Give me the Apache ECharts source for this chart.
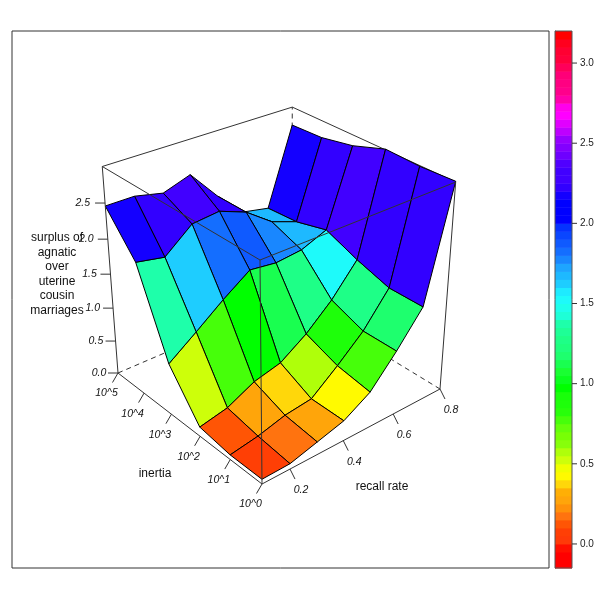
<!DOCTYPE html>
<html><head><meta charset="utf-8">
<style>html,body{margin:0;padding:0;background:#fff}#c{width:600px;height:600px}</style>
<script src="https://cdn.jsdelivr.net/npm/echarts@6/dist/echarts.min.js"></script>
</head><body><div id="c"></div>
<script>
const inertiaLabels = ['10^0','10^1','10^2','10^3','10^4','10^5'];
const recallRates = [0.1,0.2,0.3,0.4,0.5,0.6,0.7,0.8];
const recallTicks = [0.2,0.4,0.6,0.8];
const surplusTicks = [0,0.5,1,1.5,2,2.5];
const keyTicks = [0,0.5,1,1.5,2,2.5,3];
const surplusInertia0 = [0.07,0.08,0.19,0.30,0.53,0.95,1.42,3.00];
const surplusInertia1 = [0.07,0.14,0.25,0.30,0.61,0.95,1.42,2.98];
const surplusInertia2 = [0.14,0.23,0.43,0.53,0.79,1.13,1.57,3.00];
const surplusInertia3 = [0.76,1.05,1.35,1.62,1.57,1.61,1.76,2.84];
const surplusInertia4 = [1.93,1.85,2.17,2.21,2.06,1.78,1.64,2.75];
const surplusInertia5 = [2.46,2.46,2.37,2.50,2.06,1.69,1.61,2.73];
const surplus = [surplusInertia0,surplusInertia1,surplusInertia2,surplusInertia3,surplusInertia4,surplusInertia5];
const zMax = 2.99;
const keyMin = -0.15, keyMax = 3.2, keyStep = 0.05;
const zTitle = ['surplus of','agnatic','over','uterine','cousin','marriages'];
const keyColors = [
 '#ff0000','#ff0000','#ff0f00','#ff3a08','#ff3f05','#ff5505','#ff730f','#ff910a','#ffa50a','#ffaf05',
 '#ffd70a','#fffa00','#f0ff00','#cdff0a','#afff0a','#87ff0a','#78ff05','#64ff0a','#46ff0a','#28ff0a',
 '#1eff0a','#19ff0a','#00ff00','#0aff1e','#19ff32','#19ff50','#1eff6e','#1eff7d','#1eff87','#1eff96',
 '#1effaa','#1effd7','#1effeb','#1efafa','#1eebff','#1ecdff','#1eb9ff','#1ea5ff','#1987ff','#146eff',
 '#0f5aff','#0a46ff','#0532ff','#0000ff','#0000ff','#0000ff','#1400ff','#3200ff','#4100ff','#4100ff',
 '#5000ff','#6e00ff','#8200ff','#9600ff','#be00ff','#e100ff','#ff00ff','#ff00eb','#ff00aa','#ff008c',
 '#ff0082','#ff0078','#ff005a','#ff003c','#ff0032','#ff001e','#ff0000'];
const keyBands = keyColors.length;

function bandColor(v){
  let b=Math.floor((v-keyMin)/keyStep+1e-9);
  b=Math.max(0,Math.min(keyBands-1,b));
  return keyColors[b];
}
// camera: homogeneous projection of the unit box
function project(x,y,z){
  const w=1+0.13*x+0.12*y-0.10*z;
  return [(262-128.66*x+230.8*y-28*z)/w,(484-62.51*x-48.32*y-250*z)/w];
}
const vtx=(i,j)=>project(i/5,j/7,surplus[i][j]/zMax);
const facets=[];
for(let i=0;i<5;i++)for(let j=0;j<7;j++){
  const m=(surplus[i][j]+surplus[i+1][j]+surplus[i][j+1]+surplus[i+1][j+1])/4;
  const depth=1+0.13*(i+.5)/5+0.12*(j+.5)/7-0.10*m/zMax;
  facets.push([i,j,m,depth]);
}
facets.sort((a,b)=>b[3]-a[3]);
const backEdges=[[1,0,0,1,1,0],[0,1,0,1,1,0],[1,1,0,1,1,1]];
const backSolid=[[1,0,1,1,1,1],[0,1,1,1,1,1]];
const frontEdges=[[0,0,0,1,0,0],[0,0,0,0,1,0],[1,0,0,1,0,1],[0,1,0,0,1,1],[0,0,0,0,0,1],[0,0,1,1,0,1],[0,0,1,0,1,1]];
const font='"Liberation Sans",Arial,sans-serif';

function lineItem(dashed){return (p,api)=>{
  const a=api.coord(project(api.value(0),api.value(1),api.value(2)));
  const b=api.coord(project(api.value(3),api.value(4),api.value(5)));
  return {type:'line',shape:{x1:a[0],y1:a[1],x2:b[0],y2:b[1]},
    style:{stroke:'#333',lineWidth:1,lineDash:dashed?[5,4]:null,fill:null}};
};}
function label(x,y,text,size,italic){return {type:'text',silent:true,style:{x,y,text,fill:'#111',fontSize:size,fontStyle:italic?'italic':'normal',fontFamily:font,
  align:'center',verticalAlign:'middle',textAlign:'center',textVerticalAlign:'middle'}};}
function tickGroup(base,dx,dy,lx,ly,text,api){
  const a=api.coord(base);
  return {type:'group',children:[
    {type:'line',shape:{x1:a[0],y1:a[1],x2:a[0]+dx,y2:a[1]+dy},style:{stroke:'#333',lineWidth:1,fill:null}},
    label(a[0]+lx,a[1]+ly,text,10.5,true)
  ]};
}
const common={type:'custom',coordinateSystem:'cartesian2d',xAxisIndex:0,yAxisIndex:0,silent:true,animation:false,clip:false};
const option={
  animation:false,backgroundColor:'#fff',
  grid:[
    {left:12,top:31,width:537,height:537,show:true,borderColor:'#333',borderWidth:1,backgroundColor:'transparent'},
    {left:555,top:31,width:17,height:537,show:true,borderColor:'#555',borderWidth:1,backgroundColor:'transparent',z:5}
  ],
  xAxis:[
    {type:'value',min:12,max:549,show:false,gridIndex:0},
    {type:'value',min:0,max:1,show:false,gridIndex:1}
  ],
  yAxis:[
    {type:'value',min:31,max:568,inverse:true,show:false,gridIndex:0},
    {type:'value',min:keyMin,max:keyMax,gridIndex:1,position:'right',splitLine:{show:false},
     axisLine:{show:true,lineStyle:{color:'#555',width:1}},
     axisTick:{show:false},
     axisLabel:{show:true,margin:8,fontSize:10,color:'#222',fontFamily:font,customValues:keyTicks,formatter:v=>v.toFixed(1)}}
  ],
  series:[
    Object.assign({},common,{z:1,data:backEdges,renderItem:lineItem(true)}),
    Object.assign({},common,{z:1,data:backSolid,renderItem:lineItem(false)}),
    Object.assign({},common,{z:2,data:facets,renderItem:(p,api)=>{
      const i=api.value(0),j=api.value(1);
      const pts=[vtx(i,j),vtx(i+1,j),vtx(i+1,j+1),vtx(i,j+1)].map(q=>api.coord(q));
      return {type:'polygon',shape:{points:pts},style:{fill:bandColor(api.value(2)),stroke:'#000',lineWidth:1,lineJoin:'round'}};
    }}),
    Object.assign({},common,{z:3,data:frontEdges,renderItem:lineItem(false)}),
    Object.assign({},common,{z:4,data:inertiaLabels.map((l,i)=>[i]),renderItem:(p,api)=>{
      const i=api.value(0);
      return tickGroup(project(i/5,0,0),-5.5,9.5,-11.5,20.5,inertiaLabels[i],api);
    }}),
    Object.assign({},common,{z:4,data:recallTicks.map(r=>[r]),renderItem:(p,api)=>{
      const r=api.value(0);
      return tickGroup(project(0,(r-recallRates[0])/(recallRates[7]-recallRates[0]),0),5,10,11,21.5,r.toFixed(1),api);
    }}),
    Object.assign({},common,{z:4,data:surplusTicks.map(v=>[v]),renderItem:(p,api)=>{
      const v=api.value(0);
      return tickGroup(project(1,0,v/zMax),-10,0,-19-1.3*v,0,v.toFixed(1),api);
    }}),
    Object.assign({},common,{z:4,data:[[0]],renderItem:(p,api)=>{
      const ch=zTitle.map((s,k)=>{const a=api.coord([57,238+14.5*k]);return label(a[0],a[1],s,12,false);});
      const a=api.coord([155,474]),b=api.coord([382,487]);
      ch.push(label(a[0],a[1],'inertia',12,false));
      ch.push(label(b[0],b[1],'recall rate',12,false));
      return {type:'group',children:ch};
    }}),
    {type:'custom',coordinateSystem:'cartesian2d',xAxisIndex:1,yAxisIndex:1,silent:true,animation:false,z:3,clip:false,
     data:keyColors.map((c,k)=>[k]),
     renderItem:(p,api)=>{
       const k=api.value(0);
       const a=api.coord([0,keyMin+keyStep*k]),b=api.coord([1,keyMin+keyStep*(k+1)]);
       return {type:'rect',shape:{x:a[0],y:b[1],width:b[0]-a[0],height:a[1]-b[1]+0.5},style:{fill:keyColors[k],stroke:null}};
     }},
    {type:'custom',coordinateSystem:'cartesian2d',xAxisIndex:1,yAxisIndex:1,silent:true,animation:false,z:6,clip:false,
     data:keyTicks.map(v=>[1,v]),
     renderItem:(p,api)=>{
       const a=api.coord([api.value(0),api.value(1)]);
       return {type:'line',shape:{x1:a[0],y1:a[1],x2:a[0]+5,y2:a[1]},style:{stroke:'#333',lineWidth:1,fill:null}};
     }}
  ]
};
echarts.init(document.getElementById('c'),null,{renderer:'canvas',width:600,height:600}).setOption(option);
</script></body></html>
